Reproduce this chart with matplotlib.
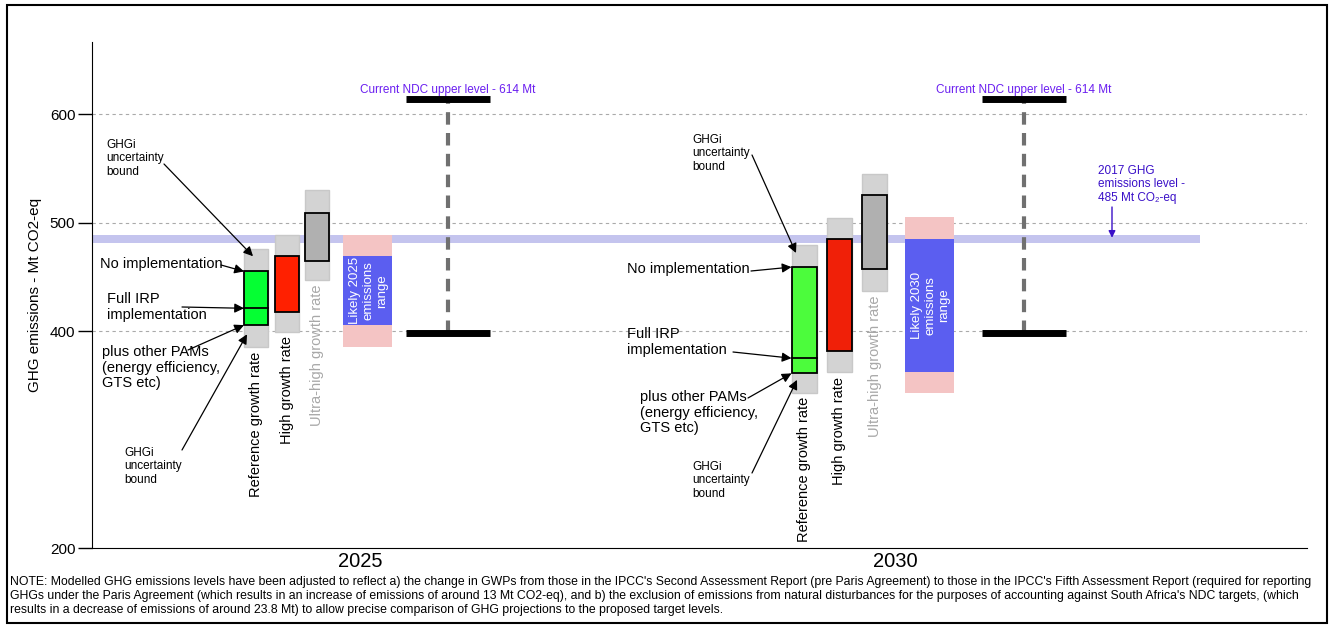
import numpy as np
import matplotlib
matplotlib.use("Agg")
import matplotlib.pyplot as plt
from matplotlib.patches import Rectangle

plt.rcParams['font.family'] = ['Liberation Sans', 'DejaVu Sans']

# data (Mt CO2-eq)
years = ['2025', '2030']
ref_unc_low = [385, 343]
ref_unc_high = [476, 479]
ref_pams = [405.5, 361]
ref_irp = [421, 375]
ref_noimpl = [455, 459]
high_unc_low = [399, 362]
high_unc_high = [488.5, 504]
high_low = [417.5, 381.5]
high_high = [469, 485]
ultra_unc_low = [447, 437]
ultra_unc_high = [530, 545]
ultra_low = [464.5, 457]
ultra_high = [509, 525]
likely_outer_low = [385, 343]
likely_outer_high = [489, 505]
likely_low = [405.5, 362]
likely_high = [469, 485]
ndc_low = 398
ndc_high = 614
level_2017 = 485

# layout (x positions along the axis)
x_ref = [164, 712]
x_high = [194.5, 747.5]
x_ultra = [225, 782.5]
x_likely = [275.5, 837.5]
x_ndc = [355.5, 931.5]
x_year = [268, 803]
w_bar = [24, 25]
w_likely = 49
ndc_half = 42

green = ['#05ff33', '#4cfc3c']
red = ['#ff2000', '#f02008']

W, H = 1333, 630
fig = plt.figure(figsize=(W / 100, H / 100), dpi=100)
ax = fig.add_axes([92 / W, 1 - 548 / H, (1307 - 92) / W, (548 - 42) / H])
ax.set_xlim(0, 1215)
ax.set_ylim(200, 666.5)


def fp(x, y):
    # pixel position in the picture -> figure fraction
    return (x / W, 1 - y / H)


for v in [400, 500, 600]:
    ax.axhline(v, color='#aaaaaa', lw=0.8, ls=(0, (3, 3)), zorder=1)

ax.axhspan(level_2017 - 3.5, level_2017 + 3.5, xmin=0, xmax=1108 / 1215,
           color='#c4c4ee', lw=0, zorder=2)


def box(x, w, lo, hi, fc, ec, lw, z):
    ax.add_patch(Rectangle((x - w / 2, lo), w, hi - lo, facecolor=fc,
                           edgecolor=ec, lw=lw, zorder=z))


for i in range(2):
    w = w_bar[i]
    box(x_ref[i], w, ref_unc_low[i], ref_unc_high[i], '#d3d3d3', '#c8c8c8', 1, 3)
    box(x_ref[i], w, ref_pams[i], ref_noimpl[i], green[i], 'black', 1.3, 4)
    ax.plot([x_ref[i] - w / 2, x_ref[i] + w / 2], [ref_irp[i]] * 2, color='black', lw=1.3, zorder=5)

    box(x_high[i], w, high_unc_low[i], high_unc_high[i], '#d3d3d3', '#c8c8c8', 1, 3)
    box(x_high[i], w, high_low[i], high_high[i], red[i], 'black', 1.3, 4)

    box(x_ultra[i], w, ultra_unc_low[i], ultra_unc_high[i], '#d3d3d3', '#c8c8c8', 1, 3)
    box(x_ultra[i], w, ultra_low[i], ultra_high[i], '#b0b0b0', 'black', 1.3, 4)

    box(x_likely[i], w_likely, likely_outer_low[i], likely_outer_high[i], '#f4c4c4', 'none', 0, 3)
    box(x_likely[i], w_likely, likely_low[i], likely_high[i], '#5b5ef0', 'none', 0, 4)
    ax.text(x_likely[i] + 1, (likely_low[i] + likely_high[i]) / 2,
            'Likely %s\nemissions\nrange' % years[i], rotation=90, color='white',
            ha='center', va='center', fontsize=9.5, linespacing=1.2, zorder=6)

    # NDC range
    ax.plot([x_ndc[i], x_ndc[i]], [ndc_low, ndc_high], color='#707070', lw=3,
            ls=(0, (3, 2)), zorder=5)
    ax.plot([x_ndc[i] - ndc_half, x_ndc[i] + ndc_half], [ndc_high] * 2, color='black', lw=5, zorder=6,
            solid_capstyle='butt')
    ax.plot([x_ndc[i] - ndc_half, x_ndc[i] + ndc_half], [ndc_low] * 2, color='black', lw=5, zorder=6,
            solid_capstyle='butt')
    ax.text(x_ndc[i], ndc_high + 3, 'Current NDC upper level - %d Mt' % ndc_high,
            color='#6a1ef0', fontsize=8.5, ha='center', va='bottom')

    # scenario labels
    ax.text(x_ref[i], ref_unc_low[i] - 4, 'Reference growth rate', rotation=90,
            ha='center', va='top', fontsize=10.5)
    ax.text(x_high[i], high_unc_low[i] - 4, 'High growth rate', rotation=90,
            ha='center', va='top', fontsize=10.5)
    ax.text(x_ultra[i], ultra_unc_low[i] - 4, 'Ultra-high growth rate', rotation=90,
            ha='center', va='top', fontsize=10.5, color='#a8a8a8')

    ax.text(x_year[i], 196, years[i], ha='center', va='top', fontsize=14.5)

# annotations: (text, text pos px, fontsize, arrow start px, arrow target in data)
arrow_kw = dict(arrowstyle='-|>', color='black', lw=0.9, shrinkA=0, shrinkB=0,
                mutation_scale=14)
small = 'GHGi\nuncertainty\nbound'
notes = [
    (small, (106, 139), 8.5, (164, 164), (x_ref[0] - 3, ref_unc_high[0] - 7)),
    ('No implementation', (100, 257), 10.5, (221, 265), (x_ref[0] - w_bar[0] / 2, ref_noimpl[0])),
    ('Full IRP\nimplementation', (107, 292), 10.5, (182, 307), (x_ref[0] - w_bar[0] / 2, ref_irp[0])),
    ('plus other PAMs\n(energy efficiency,\nGTS etc)', (102, 345), 10.5, (188, 350),
     (x_ref[0] - w_bar[0] / 2, ref_pams[0])),
    (small, (124, 447), 8.5, (182, 450), (x_ref[0] - 9, ref_unc_low[0] + 12)),
    (small, (692, 134), 8.5, (752, 155), (x_ref[1] - 8, ref_unc_high[1] - 7)),
    ('No implementation', (627, 262), 10.5, (751, 271), (x_ref[1] - w_bar[1] / 2, ref_noimpl[1])),
    ('Full IRP\nimplementation', (627, 327), 10.5, (733, 352), (x_ref[1] - w_bar[1] / 2, ref_irp[1])),
    ('plus other PAMs\n(energy efficiency,\nGTS etc)', (640, 390), 10.5, (748, 398),
     (x_ref[1] - w_bar[1] / 2, ref_pams[1])),
    (small, (692, 461), 8.5, (752, 473), (x_ref[1] - 7, ref_unc_low[1] + 12)),
]
for txt, tpos, fs, start, target in notes:
    fig.text(*fp(*tpos), txt, fontsize=fs, ha='left', va='top', linespacing=1.15)
    ax.annotate('', xy=target, xycoords='data', xytext=fp(*start),
                textcoords='figure fraction', arrowprops=arrow_kw, zorder=7)

# 2017 level
fig.text(*fp(1098, 165), '2017 GHG\nemissions level -\n485 Mt CO\u2082-eq', color='#3a10c8',
         fontsize=8.5, ha='left', va='top', linespacing=1.15)
ax.annotate('', xy=(1020, level_2017 + 1), xycoords='data', xytext=fp(1112, 207),
            textcoords='figure fraction',
            arrowprops=dict(arrowstyle='-|>', color='#3a10c8', lw=1, shrinkA=0, shrinkB=0,
                            mutation_scale=10))

# axes
ax.set_yticks([200, 400, 500, 600])
ax.tick_params(axis='y', length=10, width=1, labelsize=11, pad=2)
ax.set_xticks([])
for s in ['top', 'right']:
    ax.spines[s].set_visible(False)
ax.set_ylabel('GHG emissions - Mt CO2-eq', fontsize=11, labelpad=6)

note = ("NOTE: Modelled GHG emissions levels have been adjusted to reflect a) the change in GWPs from those in the "
        "IPCC's Second Assessment Report (pre Paris Agreement) to those in the IPCC's Fifth Assessment Report (required for reporting\n"
        "GHGs under the Paris Agreement (which results in an increase of emissions of around 13 Mt CO2-eq), and b) the "
        "exclusion of emissions from natural disturbances for the purposes of accounting against South Africa's NDC targets, (which\n"
        "results in a decrease of emissions of around 23.8 Mt) to allow precise comparison of GHG projections to the proposed target levels.")
fig.text(*fp(10, 576), note, fontsize=8.8, ha='left', va='top', linespacing=1.2)

fig.add_artist(Rectangle((7 / W, 1 - 623 / H), 1320 / W, 618 / H, transform=fig.transFigure,
                         fill=False, edgecolor='black', lw=1.5))

fig.savefig('out.png', dpi=100)
